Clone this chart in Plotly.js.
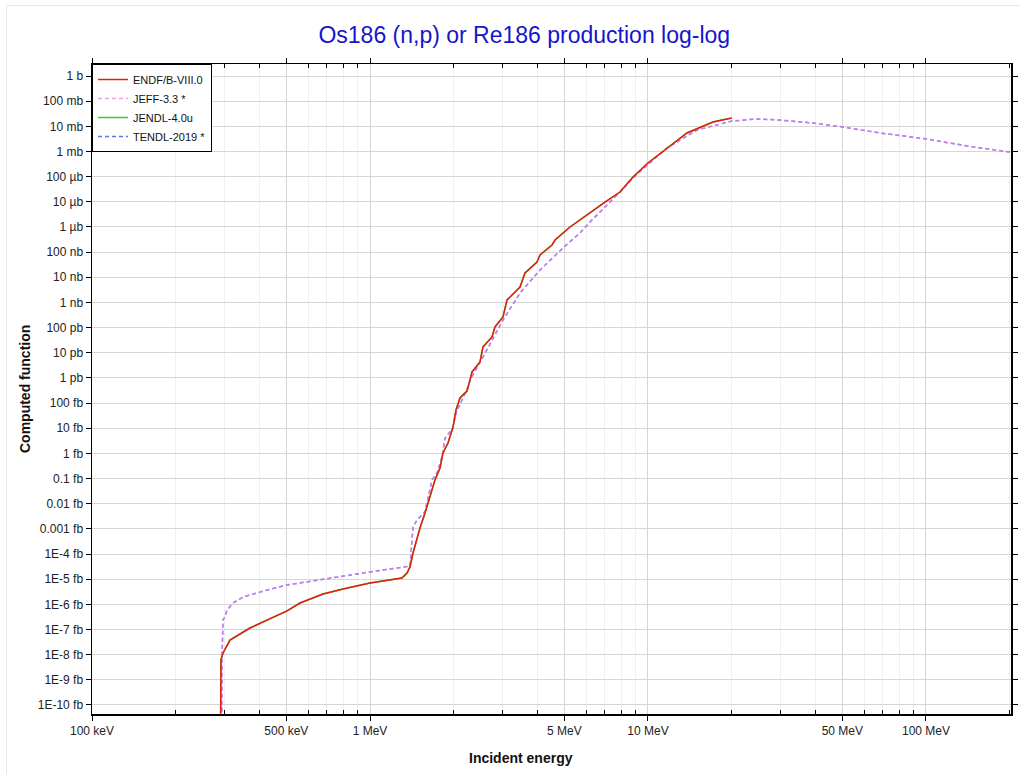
<!DOCTYPE html>
<html>
<head>
<meta charset="utf-8">
<script src="https://cdn.plot.ly/plotly-3.0.1.min.js"></script>
<style>
  html, body { margin: 0; padding: 0; background: #fff; }
  #frame { position: absolute; left: 6px; top: 5px; width: 1020px; height: 774px; border-left: 1px solid #e8e8e8; border-top: 1px solid #e8e8e8; pointer-events: none; }
  #chart { position: absolute; left: 0; top: 0; width: 1020px; height: 774px; }
</style>
</head>
<body>
<div id="chart"></div>
<div id="frame"></div>
<script>
// ---- data (energies in MeV, cross sections in barns) ----
const endfE = [0.2886, 0.2899, 0.2911, 0.2960, 0.3135, 0.370, 0.503, 0.560, 0.678, 0.800, 1.0, 1.303, 1.359, 1.393, 1.428, 1.513, 1.577, 1.713, 1.786, 1.830, 1.908, 1.989, 2.039, 2.107, 2.233, 2.290, 2.328, 2.487, 2.550, 2.747, 2.816, 3.009, 3.110, 3.465, 3.611, 3.988, 4.089, 4.516, 4.630, 5.242, 5.69, 6.185, 7.004, 7.93, 8.83, 10.0, 11.51, 13.81, 17.13, 20.0];
const endfXs = [1e-30, 9.8e-25, 6.2e-24, 1.17e-23, 3.8e-23, 1.15e-22, 5.5e-22, 1.13e-21, 2.57e-21, 4.08e-21, 7.0e-21, 1.12e-20, 1.77e-20, 3.07e-20, 1.10e-19, 1.09e-18, 4.27e-18, 8.7e-17, 2.63e-16, 1.04e-15, 2.58e-15, 1.12e-14, 5.3e-14, 1.59e-13, 3.0e-13, 8.3e-13, 1.73e-12, 4.3e-12, 1.70e-11, 4.24e-11, 1.06e-10, 2.64e-10, 1.25e-9, 4.11e-9, 1.48e-8, 4.05e-8, 7.7e-8, 1.92e-7, 3.03e-7, 9.96e-7, 1.89e-6, 3.93e-6, 9.8e-6, 2.45e-5, 9.7e-5, 3.48e-4, 1.15e-3, 5.43e-3, 1.49e-2, 2.14e-2];

const jendlE = endfE.slice();
const jendlXs = endfXs.slice();

const jeffE = [0.2923, 0.2935, 0.2960, 0.3008, 0.3059, 0.3215, 0.3494, 0.4262, 0.5029, 0.678, 1.0, 1.393, 1.428, 1.476, 1.577, 1.671, 1.742, 1.816, 1.862, 1.940, 1.989, 2.039, 2.142, 2.251, 2.290, 2.550, 3.009, 3.465, 4.089, 4.945, 5.69, 6.185, 8.06, 8.83, 10.0, 11.70, 15.01, 20.05, 24.67, 29.85, 39.22, 50.28, 68.3, 100.8, 140.5, 200.0];
const jeffXs = [1e-30, 6.2e-24, 2.4e-22, 3.16e-22, 6.0e-22, 1.13e-21, 1.96e-21, 3.72e-21, 5.9e-21, 1.02e-20, 1.94e-20, 3.33e-20, 1.18e-18, 2.25e-18, 4.7e-18, 8.7e-17, 1.66e-16, 7.2e-16, 4.1e-15, 7.1e-15, 1.12e-14, 4.04e-14, 1.32e-13, 4.36e-13, 8.3e-13, 6.8e-12, 2.0e-10, 2.37e-9, 1.95e-8, 1.46e-7, 5.75e-7, 1.57e-6, 2.94e-5, 8.8e-5, 3.04e-4, 1.37e-3, 7.14e-3, 1.63e-2, 1.95e-2, 1.78e-2, 1.35e-2, 9.4e-3, 5.43e-3, 3.13e-3, 1.65e-3, 9.5e-4];

const tendlE = jeffE.slice();
const tendlXs = jeffXs.slice();

const xTickVals = [0.1, 0.5, 1, 5, 10, 50, 100];
const xTickText = ['100 keV', '500 keV', '1 MeV', '5 MeV', '10 MeV', '50 MeV', '100 MeV'];
const xMinorVals = [0.2, 0.3, 0.4, 0.6, 0.7, 0.8, 0.9, 2, 3, 4, 6, 7, 8, 9, 20, 30, 40, 60, 70, 80, 90, 200];

const yTickVals = [1, 1e-1, 1e-2, 1e-3, 1e-4, 1e-5, 1e-6, 1e-7, 1e-8, 1e-9, 1e-10, 1e-11, 1e-12, 1e-13, 1e-14, 1e-15, 1e-16, 1e-17, 1e-18, 1e-19, 1e-20, 1e-21, 1e-22, 1e-23, 1e-24, 1e-25];
const yTickText = ['1 b', '100 mb', '10 mb', '1 mb', '100 µb', '10 µb', '1 µb', '100 nb', '10 nb', '1 nb', '100 pb', '10 pb', '1 pb', '100 fb', '10 fb', '1 fb', '0.1 fb', '0.01 fb', '0.001 fb', '1E-4 fb', '1E-5 fb', '1E-6 fb', '1E-7 fb', '1E-8 fb', '1E-9 fb', '1E-10 fb'];

const FONT = 'Arial, "Liberation Sans", sans-serif';

const traces = [
  { x: tendlE, y: tendlXs, name: 'TENDL-2019 *', mode: 'lines', legendrank: 4,
    line: { color: '#5a78e0', width: 1.5, dash: '4px,3px' } },
  { x: jendlE, y: jendlXs, name: 'JENDL-4.0u', mode: 'lines', legendrank: 3,
    line: { color: '#33cc33', width: 1.5 } },
  { x: jeffE, y: jeffXs, name: 'JEFF-3.3 *', mode: 'lines', legendrank: 2, opacity: 0.75,
    line: { color: '#f07cf0', width: 1.5, dash: '4px,3px' } },
  { x: endfE, y: endfXs, name: 'ENDF/B-VIII.0', mode: 'lines', legendrank: 1,
    line: { color: '#e81c0c', width: 1.5 } }
];

const layout = {
  width: 1020, height: 774,
  margin: { l: 92, r: 9, t: 64, b: 60 },
  paper_bgcolor: '#ffffff', plot_bgcolor: '#ffffff',
  font: { family: FONT, size: 12, color: '#222' },
  title: { text: 'Os186 (n,p) or Re186 production log-log', font: { family: FONT, size: 23, color: '#1515cc' },
           x: 0.514, xanchor: 'center', y: 0.955, yanchor: 'middle', yref: 'container' },
  showlegend: true,
  legend: { x: 0, y: 1, xanchor: 'left', yanchor: 'top', bgcolor: '#ffffff', bordercolor: '#000', borderwidth: 1,
            font: { family: FONT, size: 11, color: '#111' }, traceorder: 'normal' },
  xaxis: {
    type: 'log', range: [-1, 2.3058],
    tickmode: 'array', tickvals: xTickVals, ticktext: xTickText,
    ticks: 'outside', ticklen: 5, tickcolor: '#000', tickwidth: 1,
    showline: true, linecolor: '#000', linewidth: 1.5, mirror: 'ticks',
    showgrid: true, gridcolor: '#d6d6d6', gridwidth: 1, zeroline: false,
    minor: { tickmode: 'array', tickvals: xMinorVals, ticks: 'inside', ticklen: 4, tickcolor: '#000',
             showgrid: true, gridcolor: '#efefef', gridwidth: 1 },
    tickfont: { family: FONT, size: 12, color: '#222' }
  },
  yaxis: {
    type: 'log', range: [-25.358, 0.477],
    tickmode: 'array', tickvals: yTickVals, ticktext: yTickText,
    ticks: 'outside', ticklen: 5, tickcolor: '#000', tickwidth: 1,
    showline: true, linecolor: '#000', linewidth: 1.5, mirror: 'ticks',
    showgrid: true, gridcolor: '#d6d6d6', gridwidth: 1, zeroline: false,
    tickfont: { family: FONT, size: 12, color: '#222' }
  },
  annotations: [
    { text: '<b>Incident energy</b>', xref: 'paper', yref: 'paper', x: 0.4668, y: -0.0677,
      xanchor: 'center', yanchor: 'middle', showarrow: false, font: { family: FONT, size: 14, color: '#111' } },
    { text: '<b>Computed function</b>', xref: 'paper', yref: 'paper', x: -0.0729, y: 0.5, textangle: -90,
      xanchor: 'center', yanchor: 'middle', showarrow: false, font: { family: FONT, size: 14, color: '#111' } }
  ]
};

Plotly.newPlot('chart', traces, layout, { displayModeBar: false, staticPlot: true });
</script>
</body>
</html>
